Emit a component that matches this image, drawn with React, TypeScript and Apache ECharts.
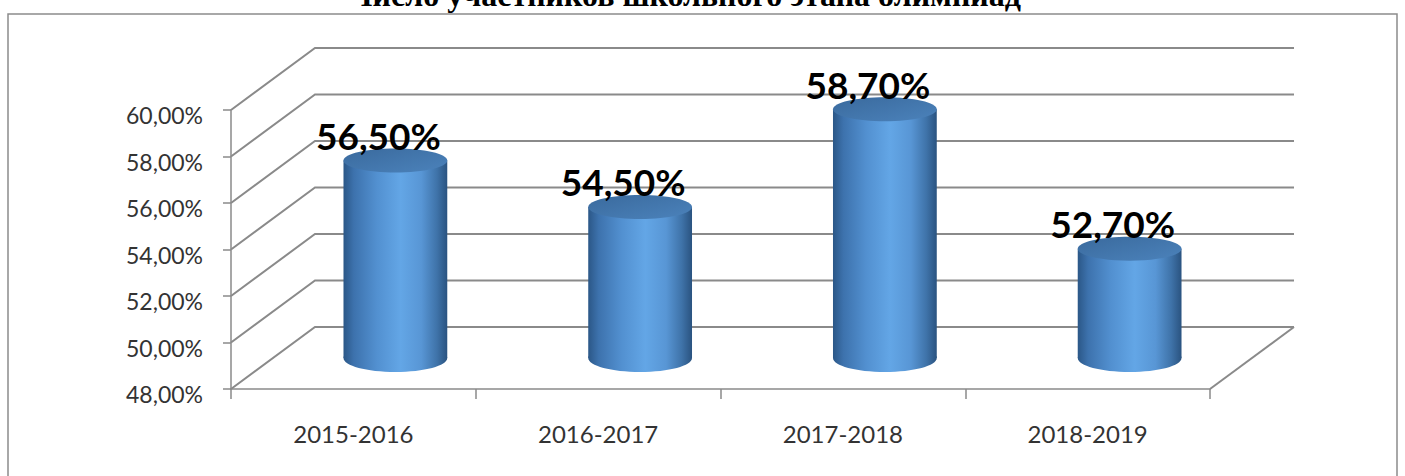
import React, { useEffect, useRef } from "react";
import * as echarts from "echarts";

const titleText = "Число участников школьного этапа олимпиад";
const categories = ["2015-2016", "2016-2017", "2017-2018", "2018-2019"];
const values = [56.5, 54.5, 58.7, 52.7];
const yMin = 48;
const yMax = 60;
const yStep = 2;
const wallLevels = [48, 50, 52, 54, 56, 58, 60];

const DX = 84;
const DY = 62;
const LINE = "#8a8a8a";

const fmt = (v: number) => v.toFixed(2).replace(".", ",") + "%";

export default function App() {
  const ref = useRef<HTMLDivElement>(null);
  useEffect(() => {
    const chart = echarts.init(ref.current!, null, { renderer: "svg" });
    const sideGrad = () =>
      new echarts.graphic.LinearGradient(0, 0, 1, 0, [
        { offset: 0, color: "#2b5787" },
        { offset: 0.1, color: "#3d72ad" },
        { offset: 0.32, color: "#5290d0" },
        { offset: 0.55, color: "#63a6e6" },
        { offset: 0.75, color: "#5896d5" },
        { offset: 0.9, color: "#3f73a9" },
        { offset: 1, color: "#2a5380" },
      ]);
    const topGrad = () =>
      new echarts.graphic.LinearGradient(0, 0, 1, 1, [
        { offset: 0, color: "#3a6a9d" },
        { offset: 1, color: "#4b82bb" },
      ]);
    chart.setOption({
      animation: false,
      grid: { left: 231, top: 110, width: 979, height: 279, containLabel: false },
      xAxis: {
        type: "category",
        data: categories,
        axisLine: { lineStyle: { color: LINE, width: 1.5 } },
        axisTick: { show: true, length: 10, lineStyle: { color: LINE, width: 1.5 } },
        axisLabel: {
          color: "#333",
          fontFamily: "Lato",
          fontSize: 24,
          margin: 32,
        },
      },
      yAxis: {
        type: "value",
        min: yMin,
        max: yMax,
        interval: yStep,
        splitLine: { show: false },
        axisLine: { show: true, lineStyle: { color: LINE, width: 1.5 } },
        axisTick: { show: true, length: 8, lineStyle: { color: LINE, width: 1.5 } },
        axisLabel: {
          color: "#333",
          fontFamily: "Lato",
          fontSize: 23,
          margin: 28,
          verticalAlign: "top",
          lineHeight: 10,
          formatter: (v: number) => fmt(v),
        },
      },
      graphic: [
        {
          type: "rect",
          shape: { x: 8, y: 14, width: 1389, height: 500 },
          style: { fill: "none", stroke: "#8c8c8c", lineWidth: 1.5 },
          silent: true,
        },
        {
          type: "text",
          x: 685,
          y: -5,
          style: {
            text: titleText,
            fill: "#000",
            font: "bold 32px 'Liberation Serif'",
            textAlign: "center",
            textVerticalAlign: "middle",
            align: "center",
            verticalAlign: "middle",
          },
          silent: true,
        },
      ],
      series: [
        {
          type: "custom",
          clip: false,
          silent: true,
          z: 1,
          data: wallLevels.map((v) => [0, v]),
          encode: { x: 0, y: 1 },
          renderItem: (params: any, api: any) => {
            const v = api.value(1);
            const p = api.coord([0, v]);
            const cs = params.coordSys;
            const left = cs.x;
            const right = cs.x + cs.width;
            const y = p[1];
            const children: any[] = [
              {
                type: "polyline",
                shape: { points: [[left, y], [left + DX, y - DY], [right + DX, y - DY]] },
                style: { stroke: LINE, lineWidth: 2, fill: "none" },
              },
            ];
            if (v === yMin) {
              children.push({
                type: "line",
                shape: { x1: right, y1: y, x2: right + DX, y2: y - DY },
                style: { stroke: LINE, lineWidth: 2 },
              });
            }
            return { type: "group", children };
          },
        },
        {
          type: "custom",
          clip: false,
          silent: true,
          z: 2,
          data: values.map((v, i) => [i, v]),
          encode: { x: 0, y: 1 },
          renderItem: (params: any, api: any) => {
            const cat = api.value(0);
            const val = api.value(1);
            const top = api.coord([cat, val]);
            const base = api.coord([cat, yMin]);
            const band = api.size([1, 0])[0];
            const rx = band * 0.212;
            const ry = 12;
            const cx = top[0] + DX / 2;
            const ty = top[1] - DY / 2;
            const by = base[1] - DY / 2;
            return {
              type: "group",
              children: [
                {
                  type: "ellipse",
                  shape: { cx, cy: by, rx, ry: ry + 2 },
                  style: { fill: sideGrad() },
                },
                {
                  type: "rect",
                  shape: { x: cx - rx, y: ty, width: rx * 2, height: by - ty },
                  style: { fill: sideGrad() },
                },
                {
                  type: "ellipse",
                  shape: { cx, cy: ty, rx, ry },
                  style: { fill: topGrad() },
                },
                {
                  type: "text",
                  x: cx - 17,
                  y: top[1] - 56,
                  style: {
                    text: fmt(val),
                    fill: "#000",
                    font: "bold 37px Lato",
                    textAlign: "center",
                    textVerticalAlign: "middle",
                    align: "center",
                    verticalAlign: "middle",
                  },
                },
              ],
            };
          },
        },
      ],
    });
    return () => chart.dispose();
  }, []);
  return (
    <div
      ref={ref}
      style={{ position: "absolute", left: 0, top: 0, width: 1405, height: 476 }}
    />
  );
}
